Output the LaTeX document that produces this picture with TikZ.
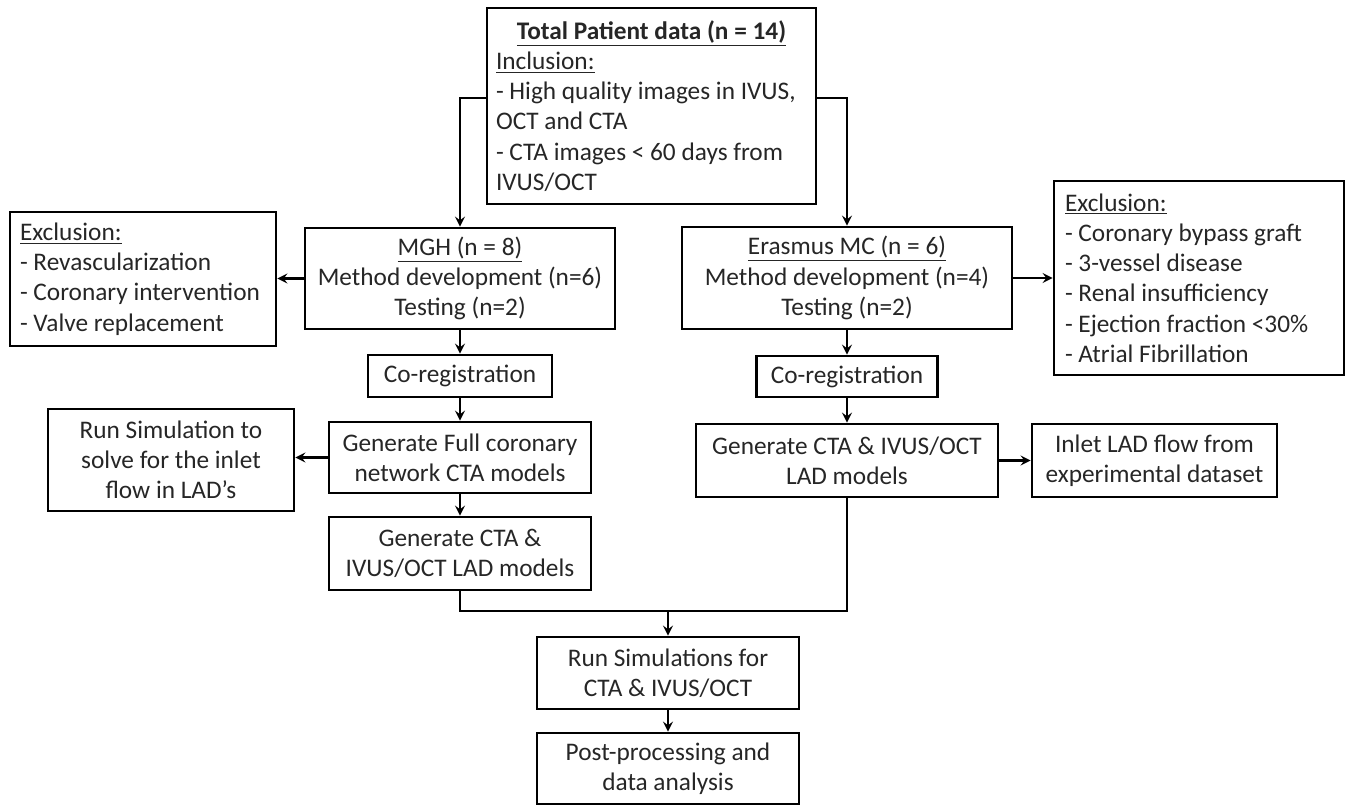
\documentclass[tikz,border=0pt]{standalone}
\usepackage{fontspec}
\setmainfont{Carlito}
\tikzset{>=stealth}
\tikzset{box/.style={draw, line width=1.5pt, align=center, inner sep=2pt, text=black!85,
    font=\fontsize{14.4}{17.2}\selectfont},
  listbox/.style={box, align=flush left, inner sep=0pt}}

\begin{document}
\begin{tikzpicture}[line width=1.5pt]
    \useasboundingbox (0,0) rectangle (27.04,-16.12);
    \node[listbox, minimum width=6.58cm, minimum height=3.92cm, text width=6.22cm] (total) at (13.03,-2.12)
        {\makebox[\linewidth][c]{\underline{\textbf{Total Patient data (n = 14)}}}\\
         \underline{Inclusion:}\\- High quality images in IVUS,\\OCT and CTA\\- CTA images < 60 days from\\IVUS/OCT};
    \node[listbox, minimum width=5.32cm, minimum height=2.68cm, text width=4.92cm] (exclL) at (2.86,-5.58)
        {\underline{Exclusion:}\\- Revascularization\\- Coronary intervention\\- Valve replacement};
    \node[box, minimum width=6.2cm, minimum height=2.02cm] (mgh) at (9.2,-5.57)
        {\underline{MGH (n = 8)}\\Method development (n=6)\\Testing (n=2)};
    \node[box, minimum width=6.6cm, minimum height=2.04cm] (erasmus) at (16.94,-5.56)
        {\underline{Erasmus MC (n = 6)}\\Method development (n=4)\\Testing (n=2)};
    \node[listbox, minimum width=5.8cm, minimum height=3.88cm, text width=5.36cm] (exclR) at (23.98,-5.56)
        {\underline{Exclusion:}\\- Coronary bypass graft\\- 3-vessel disease\\- Renal insufficiency\\- Ejection fraction <30\%\\- Atrial Fibrillation};
    \node[box, minimum width=3.68cm, minimum height=0.84cm] (coregL) at (9.2,-7.52) {Co-registration};
    \node[box, minimum width=3.62cm, minimum height=0.82cm] (coregR) at (16.94,-7.53) {Co-registration};
    \node[box, minimum width=4.92cm, minimum height=2.04cm] (runsim) at (3.42,-9.2)
        {Run Simulation to\\solve for the inlet\\flow in LAD’s};
    \node[box, minimum width=5.24cm, minimum height=1.42cm] (genfull) at (9.2,-9.15)
        {Generate Full coronary\\network CTA models};
    \node[box, minimum width=5.24cm, minimum height=1.46cm] (genL) at (9.2,-11.07)
        {Generate CTA \&\\IVUS/OCT LAD models};
    \node[box, minimum width=6.04cm, minimum height=1.46cm] (genR) at (16.94,-9.21)
        {Generate CTA \& IVUS/OCT\\LAD models};
    \node[box, minimum width=4.9cm, minimum height=1.46cm] (inlet) at (23.09,-9.21)
        {Inlet LAD flow from\\experimental dataset};
    \node[box, minimum width=5.24cm, minimum height=1.44cm] (runsims) at (13.36,-13.46)
        {Run Simulations for\\CTA \& IVUS/OCT};
    \node[box, minimum width=5.24cm, minimum height=1.42cm] (post) at (13.36,-15.37)
        {Post-processing and\\data analysis};
    \coordinate (join) at (13.36,-12.22);
    \draw[->] ([yshift=0.16cm]total.west) -| (mgh.north);
    \draw[->] ([yshift=0.16cm]total.east) -| (erasmus.north);
    \draw[->] (mgh.west) -- (exclL.east |- mgh.west);
    \draw[->] (erasmus.east) -- (exclR.west |- erasmus.east);
    \draw[->] (mgh) -- (coregL);
    \draw[->] (coregL) -- (genfull);
    \draw[->] (genfull.west) -- (runsim.east |- genfull.west);
    \draw[->] (genfull) -- (genL);
    \draw[->] (erasmus) -- (coregR);
    \draw[->] (coregR) -- (genR);
    \draw[->] (genR) -- (inlet);
    \draw (genL.south) |- (join) -| (genR.south);
    \draw[->] (join) -- (runsims);
    \draw[->] (runsims) -- (post);
\end{tikzpicture}
\end{document}
